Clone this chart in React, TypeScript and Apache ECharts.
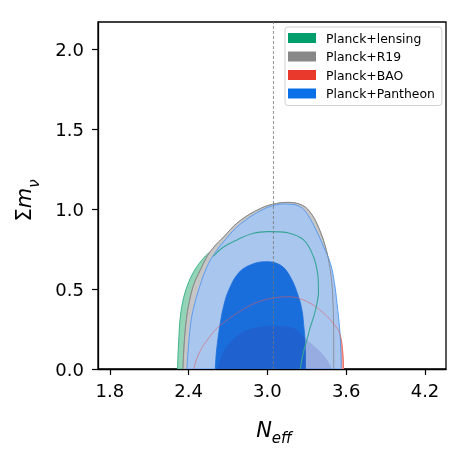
import React, { useEffect, useRef } from "react";
import * as echarts from "echarts";

// ---- data ----
const seriesNames = ["Planck+lensing", "Planck+R19", "Planck+BAO", "Planck+Pantheon"];
const legendColors = ["#009e6c", "#888888", "#e8392c", "#0a70e8"];
const xTicks = [1.8, 2.4, 3.0, 3.6, 4.2];
const yTicks = [0, 0.5, 1.0, 1.5, 2.0];
const xRange = [1.71, 4.36];
const yRange = [0, 2.17];
const nEffStandard = 3.046;

// Planck+lensing outer contour (filled, left part visible)
const lensing95 = [
  [2.316, 0], [2.32, 0.1], [2.326, 0.2], [2.335, 0.31], [2.355, 0.42], [2.39, 0.52],
  [2.44, 0.61], [2.5, 0.68], [2.56, 0.73], [2.66, 0.78], [2.768, 0.807], [2.894, 0.849],
  [3.021, 0.859], [3.149, 0.853], [3.275, 0.807], [3.351, 0.702], [3.385, 0.58],
  [3.389, 0.47], [3.36, 0.35], [3.326, 0.26], [3.3, 0.18], [3.27, 0.09], [3.25, 0],
];
// Planck+lensing contour line seen through the Pantheon band
const lensingLine = [
  [2.59, 0.705], [2.66, 0.76], [2.768, 0.807], [2.894, 0.849], [3.021, 0.859],
  [3.149, 0.853], [3.275, 0.807], [3.351, 0.702], [3.385, 0.58], [3.389, 0.47],
  [3.36, 0.35], [3.326, 0.26], [3.3, 0.18], [3.27, 0.09], [3.25, 0],
];
// Planck+R19 outer contour
const r1995 = [
  [2.357, 0], [2.362, 0.1], [2.37, 0.2], [2.383, 0.31], [2.405, 0.42], [2.44, 0.53],
  [2.49, 0.62], [2.545, 0.71], [2.6, 0.77], [2.66, 0.82], [2.78, 0.92], [2.95, 1.005],
  [3.07, 1.035], [3.17, 1.042], [3.27, 1.022], [3.335, 0.97], [3.39, 0.885], [3.44, 0.77],
  [3.47, 0.66], [3.49, 0.54], [3.5, 0.4], [3.505, 0.2], [3.505, 0],
];
// Planck+BAO contours
const bao95 = [
  [2.44, 0], [2.46, 0.06], [2.5, 0.13], [2.55, 0.19], [2.61, 0.25], [2.7, 0.31],
  [2.79, 0.36], [2.9, 0.41], [3.02, 0.44], [3.17, 0.452], [3.3, 0.422], [3.43, 0.348],
  [3.53, 0.255], [3.554, 0.213], [3.572, 0.119], [3.58, 0],
];
const bao68 = [
  [2.616, 0], [2.64, 0.06], [2.69, 0.14], [2.76, 0.2], [2.844, 0.244], [3.02, 0.27],
  [3.199, 0.255], [3.288, 0.192], [3.36, 0.14], [3.415, 0.098], [3.46, 0.05], [3.49, 0],
];
// Planck+Pantheon contours
const pantheon95 = [
  [2.387, 0], [2.395, 0.1], [2.405, 0.2], [2.42, 0.31], [2.45, 0.42], [2.49, 0.53],
  [2.53, 0.62], [2.58, 0.7], [2.68, 0.81], [2.8, 0.91], [2.96, 0.995], [3.07, 1.027],
  [3.15, 1.032], [3.25, 1.015], [3.31, 0.96], [3.37, 0.87], [3.43, 0.76], [3.48, 0.66],
  [3.51, 0.54], [3.53, 0.41], [3.55, 0.25], [3.56, 0.1], [3.562, 0],
];
const pantheon68 = [
  [2.603, 0], [2.608, 0.07], [2.616, 0.14], [2.627, 0.21], [2.641, 0.286], [2.666, 0.39],
  [2.704, 0.49], [2.78, 0.6], [2.869, 0.65], [2.983, 0.671], [3.098, 0.65], [3.174, 0.577],
  [3.237, 0.452], [3.265, 0.36], [3.275, 0.286], [3.285, 0.2], [3.288, 0.14], [3.29, 0.06],
  [3.29, 0],
];
const refLine = [[nEffStandard, yRange[0]], [nEffStandard, yRange[1]]];

const FONT = "DejaVu Sans";

function shapeSeries(name: string, data: number[][], closed: boolean, style: any) {
  return {
    type: "custom",
    name,
    data,
    silent: true,
    clip: true,
    encode: { x: 0, y: 1 },
    renderItem: (params: any, api: any) => {
      if (params.dataIndexInside !== 0) return null;
      const n = params.dataInsideLength;
      const pts: number[][] = [];
      let minX = Infinity, minY = Infinity, maxX = -Infinity, maxY = -Infinity;
      for (let i = 0; i < n; i++) {
        const p = api.coord([api.value(0, i), api.value(1, i)]);
        pts.push(p);
        minX = Math.min(minX, p[0]); maxX = Math.max(maxX, p[0]);
        minY = Math.min(minY, p[1]); maxY = Math.max(maxY, p[1]);
      }
      return {
        type: closed ? "polygon" : "polyline",
        shape: { points: pts, smooth: 0.4, smoothConstraint: [[minX, minY], [maxX, maxY]] },
        style,
      };
    },
  };
}

export default function App() {
  const ref = useRef<HTMLDivElement>(null);
  useEffect(() => {
    const chart = echarts.init(ref.current!, null, { renderer: "svg" });
    const option: any = {
      animation: false,
      textStyle: { fontFamily: FONT },
      grid: {
        left: 98, top: 22, right: 24, bottom: 92,
        show: true, borderColor: "#000", borderWidth: 1.3, backgroundColor: "transparent",
      },
      legend: {
        data: seriesNames.map((n, i) => ({ name: n, icon: "rect", itemStyle: { color: legendColors[i] } })),
        orient: "vertical",
        left: 285, top: 27,
        padding: [5, 7, 6, 3],
        itemWidth: 28, itemHeight: 10, itemGap: 6.5,
        borderColor: "#d0d0d0", borderWidth: 1, borderRadius: 3,
        backgroundColor: "rgba(255,255,255,0.85)",
        textStyle: { fontSize: 12.4, color: "#000", fontFamily: FONT, padding: [0, 0, 0, 5] },
        selectedMode: false,
      },
      xAxis: {
        type: "value", min: xRange[0], max: xRange[1],
        axisLine: { show: true, lineStyle: { color: "#000", width: 1.3 } },
        axisTick: { show: true, customValues: xTicks, length: 6, lineStyle: { color: "#000", width: 1.2 } },
        axisLabel: {
          customValues: xTicks, formatter: (v: number) => v.toFixed(1),
          fontSize: 18, color: "#000", margin: 12, fontFamily: FONT,
        },
        splitLine: { show: false },
        name: "{a|N}{b|eff}",
        nameLocation: "middle",
        nameGap: 50,
        nameTextStyle: {
          padding: [0, 0, 0, 4],
          rich: {
            a: { fontSize: 21, fontStyle: "italic", fontFamily: FONT, lineHeight: 26, verticalAlign: "top", color: "#000" },
            b: { fontSize: 15, fontStyle: "italic", fontFamily: FONT, lineHeight: 14, verticalAlign: "bottom", color: "#000" },
          },
        },
      },
      yAxis: {
        type: "value", min: yRange[0], max: yRange[1],
        axisLine: { show: true, lineStyle: { color: "#000", width: 1.3 } },
        axisTick: { show: true, customValues: yTicks, length: 6, lineStyle: { color: "#000", width: 1.2 } },
        axisLabel: {
          customValues: yTicks, formatter: (v: number) => v.toFixed(1),
          fontSize: 18, color: "#000", margin: 14, fontFamily: FONT,
        },
        splitLine: { show: false },
        name: "{s|Σ}{m|m}{n|ν}",
        nameLocation: "middle",
        nameGap: 57,
        nameRotate: 90,
        nameTextStyle: {
          padding: [0, 10, 0, 0],
          rich: {
            s: { fontSize: 21, fontFamily: FONT, lineHeight: 28, verticalAlign: "top", color: "#000" },
            m: { fontSize: 21, fontStyle: "italic", fontFamily: FONT, lineHeight: 28, verticalAlign: "top", color: "#000" },
            n: { fontSize: 15, fontStyle: "italic", fontFamily: FONT, lineHeight: 16, verticalAlign: "bottom", color: "#000" },
          },
        },
      },
      series: [
        shapeSeries(seriesNames[0], lensing95, true, { fill: "#93d4b7", stroke: "#3db28a", lineWidth: 1 }),
        shapeSeries(seriesNames[1], r1995, true, { fill: "#c6c6c6", stroke: "#a0a0a0", lineWidth: 1 }),
        shapeSeries(seriesNames[2], bao95, true, { fill: "#f5a292", stroke: "#f08a7a", lineWidth: 1 }),
        shapeSeries(seriesNames[3], pantheon95, true, { fill: "#a9c6ef", stroke: "#5b9cf0", lineWidth: 1 }),
        shapeSeries(seriesNames[3], pantheon68, true, { fill: "#1a6edb", stroke: "#1a6edb", lineWidth: 0.8 }),
        shapeSeries(seriesNames[2], bao68, true, { fill: "rgba(60,40,150,0.16)", stroke: "none" }),
        shapeSeries(seriesNames[1], r1995, false, { fill: "none", stroke: "rgba(130,130,130,0.75)", lineWidth: 1 }),
        shapeSeries(seriesNames[2], bao95, false, { fill: "none", stroke: "rgba(225,90,90,0.55)", lineWidth: 1 }),
        shapeSeries(seriesNames[0], lensingLine, false, { fill: "none", stroke: "#37a596", lineWidth: 1.1 }),
        {
          type: "line",
          name: "N_eff = 3.046",
          data: refLine,
          showSymbol: false,
          silent: true,
          lineStyle: { color: "#777", width: 0.8, type: [3, 2] },
        },
      ],
    };
    chart.setOption(option);
    return () => chart.dispose();
  }, []);
  return <div ref={ref} style={{ position: "fixed", left: 0, top: 0, width: 470, height: 461 }} />;
}
